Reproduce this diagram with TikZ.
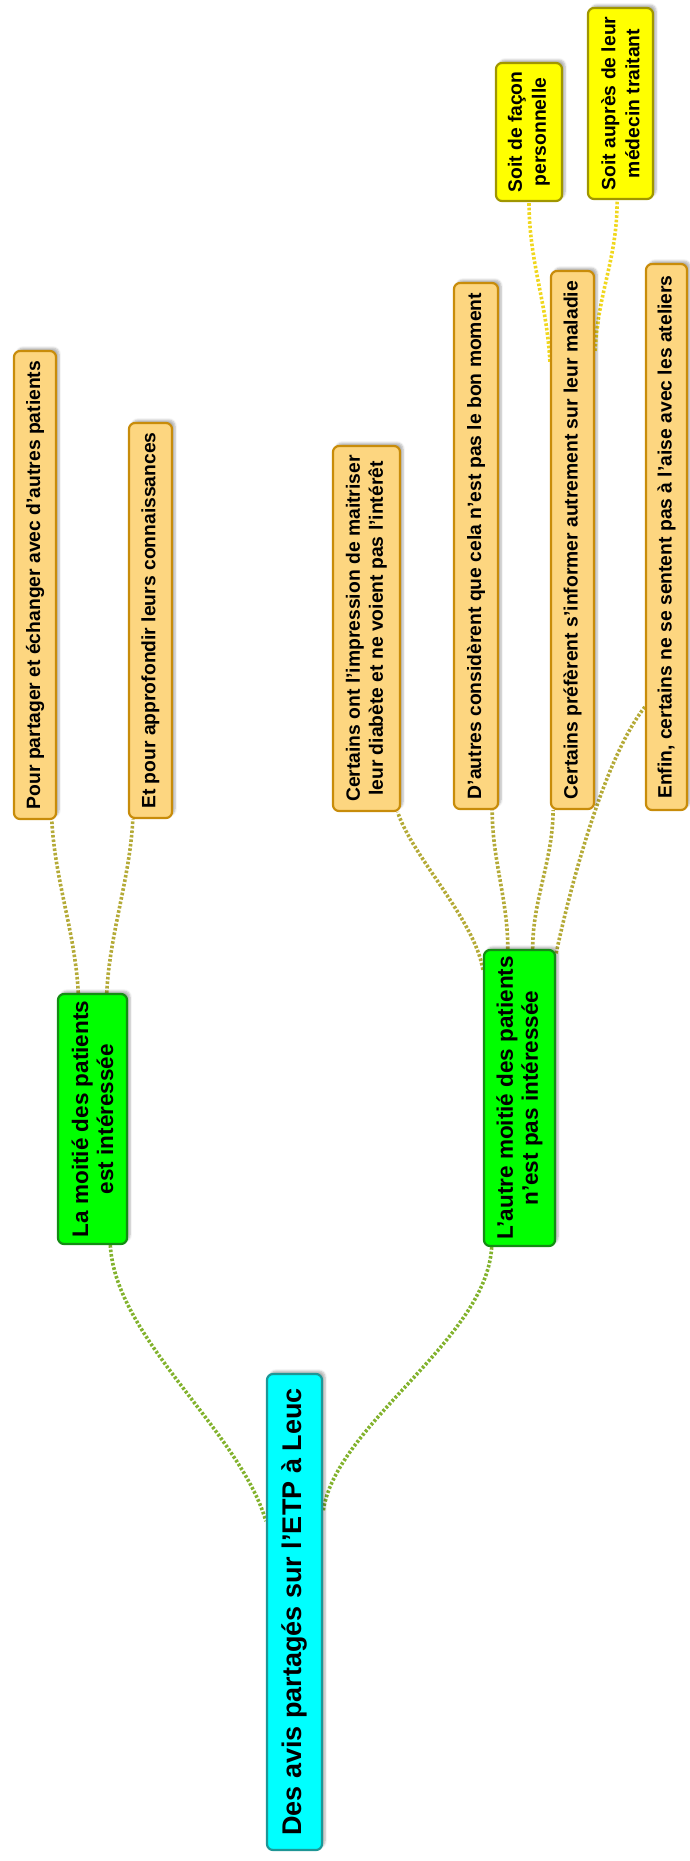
\documentclass[tikz,border=0pt]{standalone}
\usepackage{fontspec}
\setmainfont{Liberation Sans}
\usetikzlibrary{calc,shadows.blur,backgrounds}
\definecolor{RootFill}{RGB}{0,255,255}
\definecolor{RootEdge}{RGB}{30,150,150}
\definecolor{BranchFill}{RGB}{0,255,0}
\definecolor{BranchEdge}{RGB}{20,140,20}
\definecolor{LeafFill}{RGB}{253,214,128}
\definecolor{LeafEdge}{RGB}{200,140,10}
\definecolor{NoteFill}{RGB}{255,255,0}
\definecolor{NoteEdge}{RGB}{160,150,0}
\definecolor{RootLink}{RGB}{130,178,45}
\definecolor{BranchLink}{RGB}{180,170,55}
\definecolor{NoteLink}{RGB}{240,215,30}
\tikzset{
  link/.style={line width=3.6pt,dash pattern=on 2.6pt off 1.9pt,draw=RootLink},
  sublink/.style={link,draw=BranchLink},
  notelink/.style={link,draw=NoteLink},
  mapbox/.style={rotate=90,rounded corners=6pt,line width=2.2pt,inner sep=0pt,align=center,
    blur shadow={shadow xshift=3pt,shadow yshift=3pt,shadow blur steps=6,shadow opacity=30}},
  rootbox/.style={mapbox,draw=RootEdge,fill=RootFill,font=\fontsize{27}{32}\selectfont\bfseries},
  greenbox/.style={mapbox,draw=BranchEdge,fill=BranchFill,font=\fontsize{22.5}{25}\selectfont\bfseries},
  orangebox/.style={mapbox,draw=LeafEdge,fill=LeafFill,font=\fontsize{19.3}{23}\selectfont\bfseries},
  yellowbox/.style={mapbox,draw=NoteEdge,fill=NoteFill,font=\fontsize{19.3}{24}\selectfont\bfseries}
}

\begin{document}
\begin{tikzpicture}[x=1pt,y=-1pt]
  \useasboundingbox (0,0) rectangle (689,1861);
  \node[rootbox,minimum width=476pt,minimum height=55pt] (root) at (294.5,1612) {Des avis partagés sur l’ETP à Leuc};

  \node[greenbox,minimum width=250pt,minimum height=69pt] (half) at (92.5,1119) {La moitié des patients\\est intéressée};
  \node[greenbox,minimum width=296pt,minimum height=71pt] (other) at (519.5,1098) {L’autre moitié des patients\\n’est pas intéressée};

  \node[orangebox,minimum width=468pt,minimum height=42pt] (share) at (35,585) {Pour partager et échanger avec d’autres patients};
  \node[orangebox,minimum width=395pt,minimum height=43pt] (deepen) at (150.5,620.5) {Et pour approfondir leurs connaissances};
  \node[orangebox,minimum width=365pt,minimum height=67pt] (control) at (366.5,628.5) {Certains ont l’impression de maitriser\\leur diabète et ne voient pas l’intérêt};
  \node[orangebox,minimum width=526pt,minimum height=44pt] (timing) at (476,546) {D’autres considèrent que cela n’est pas le bon moment};
  \node[orangebox,minimum width=538pt,minimum height=43pt] (inform) at (572.5,540) {Certains préfèrent s’informer autrement sur leur maladie};
  \node[orangebox,minimum width=546pt,minimum height=41pt] (ease) at (666.5,537) {Enfin, certains ne se sentent pas à l’aise avec les ateliers};

  \node[yellowbox,minimum width=138pt,minimum height=66pt] (alone) at (529,132) {Soit de façon\\personnelle};
  \node[yellowbox,minimum width=191pt,minimum height=65pt] (doctor) at (620.5,103.5) {Soit auprès de leur\\médecin traitant};

  \begin{scope}[on background layer]
    \draw[link] ($(half.north west)!.75!(half.south west)$) .. controls +(5,93) and +(-26,-90) .. ($(root.north east)!.31!(root.north west)$);
    \draw[link] ($(other.north west)!.12!(other.south west)$) .. controls +(-5,93) and +(12,-87) .. ($(root.south east)!.29!(root.south west)$);

    \draw[sublink] ($(half.north east)!.3!(half.south east)$) .. controls +(-3,-60) and +(3,60) .. ($(share.north west)!.88!(share.south west)$);
    \draw[sublink] ($(half.north east)!.7!(half.south east)$) .. controls +(3,-60) and +(-3,60) .. ($(deepen.north west)!.11!(deepen.south west)$);

    \draw[sublink] ($(other.north east)!.07!(other.north west)$) .. controls +(-8,-50) and +(15,45) .. ($(control.north west)!.95!(control.south west)$);
    \draw[sublink] ($(other.north east)!.34!(other.south east)$) .. controls +(0,-50) and +(0,50) .. ($(timing.north west)!.85!(timing.south west)$);
    \draw[sublink] ($(other.north east)!.68!(other.south east)$) .. controls +(0,-50) and +(0,50) .. ($(inform.north west)!.07!(inform.south west)$);
    \draw[sublink] ($(other.south east)!.015!(other.south west)$) .. controls +(15,-70) and +(-40,50) .. ($(ease.north east)!.81!(ease.north west)$);

    \draw[notelink] ($(inform.north east)!.17!(inform.north west)$) .. controls +(-3,-60) and +(0,60) .. (alone.west);
    \draw[notelink] ($(inform.south east)!.15!(inform.south west)$) .. controls +(3,-60) and +(0,60) .. ($(doctor.north west)!.45!(doctor.south west)$);
  \end{scope}
\end{tikzpicture}
\end{document}
